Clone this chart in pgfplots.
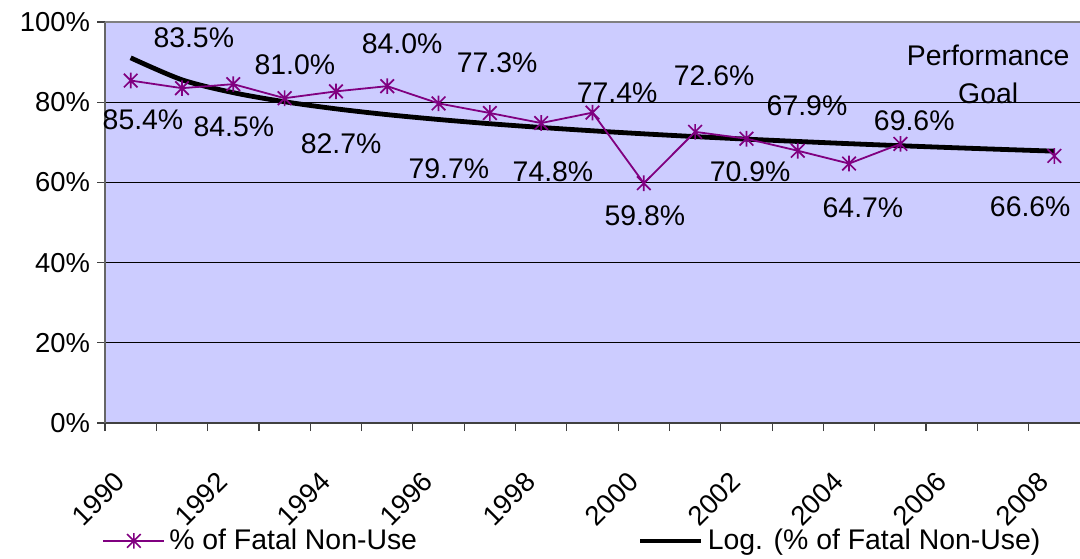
\documentclass[border=0pt]{standalone}
\usepackage{pgfplots}
\pgfplotsset{compat=1.18}
\usepackage{fontspec}
\setmainfont{Liberation Sans}
\definecolor{plotbg}{HTML}{CCCCFF}
\definecolor{seriescol}{HTML}{800080}
\pgfdeclareplotmark{xvstar}{%
  \pgfpathmoveto{\pgfqpoint{-\pgfplotmarksize}{-\pgfplotmarksize}}%
  \pgfpathlineto{\pgfqpoint{\pgfplotmarksize}{\pgfplotmarksize}}%
  \pgfpathmoveto{\pgfqpoint{-\pgfplotmarksize}{\pgfplotmarksize}}%
  \pgfpathlineto{\pgfqpoint{\pgfplotmarksize}{-\pgfplotmarksize}}%
  \pgfpathmoveto{\pgfqpoint{0pt}{-1.15\pgfplotmarksize}}%
  \pgfpathlineto{\pgfqpoint{0pt}{1.15\pgfplotmarksize}}%
  \pgfusepathqstroke}
\pgfplotstableread{
x y
1990 85.4
1991 83.5
1992 84.5
1993 81.0
1994 82.7
1995 84.0
1996 79.7
1997 77.3
1998 74.8
1999 77.4
2000 59.8
2001 72.6
2002 70.9
2003 67.9
2004 64.7
2005 69.6
2006 nan
2007 nan
2008 66.6
}\fatal
\pgfplotstableread{
x y
1990 91.07
1991 85.59
1992 82.38
1993 80.11
1994 78.35
1995 76.90
1996 75.69
1997 74.63
1998 73.70
1999 72.87
2000 72.11
2001 71.42
2002 70.79
2003 70.21
2004 69.66
2005 69.15
2006 68.67
2007 68.22
2008 67.79
}\trend
\begin{document}
\begin{tikzpicture}
\useasboundingbox (0,0) rectangle (540pt,279pt);
\begin{axis}[
  at={(52.5pt,67.5pt)}, anchor=south west,
  scale only axis, width=487.5pt, height=200.5pt,
  xmin=1989.5, xmax=2008.5, ymin=0, ymax=100,
  axis background/.style={fill=plotbg},
  axis x line*=bottom, axis y line*=left,
  x axis line style={-, draw=black!75, line width=1pt},
  y axis line style={-, draw=black!60, line width=1pt},
  tick align=outside, major tick length=4pt,
  tick style={black!75, line width=0.6pt},
  ytick={0,20,40,60,80,100},
  yticklabels={0\%,20\%,40\%,60\%,80\%,100\%},
  ymajorgrids, major grid style={black, line width=0.5pt},
  xtick={1989.5,1990.5,1991.5,1992.5,1993.5,1994.5,1995.5,1996.5,1997.5,1998.5,1999.5,2000.5,2001.5,2002.5,2003.5,2004.5,2005.5,2006.5,2007.5},
  xticklabels={},
  extra x ticks={1989.66,1991.66,1993.66,1995.66,1997.66,1999.66,2001.66,2003.66,2005.66,2007.66},
  extra x tick labels={1990,1992,1994,1996,1998,2000,2002,2004,2006,2008},
  extra x tick style={major tick length=0pt},
  xticklabel style={rotate=45, anchor=north east, inner sep=0pt},
  xticklabel shift=23.5pt,
  tick label style={font=\fontsize{13.7}{16}\selectfont},
  unbounded coords=jump,
  legend style={at={(-0.003,-0.294)}, anchor=west, draw=none, fill=none,
    legend columns=2, font=\fontsize{14.2}{17}\selectfont,
    /tikz/every even column/.append style={column sep=108.5pt},
    inner sep=0pt},
  legend cell align=left,
  legend image code/.code={\draw[mark repeat=2,mark phase=2,#1] plot coordinates {(0pt,0pt) (15.25pt,0pt) (30.5pt,0pt)};},
  clip=false,
  after end axis/.code={\draw[black!50, line width=0.8pt] (rel axis cs:0,1) -- (rel axis cs:1,1);},
]
\addplot[black, line width=2.4pt, smooth, forget plot] table[x=x,y=y] {\trend};
\addplot[seriescol, line width=0.9pt, mark=xvstar, mark size=3.4pt, mark options={line width=0.85pt, solid}] table[x=x,y=y] {\fatal};
\addlegendentry{\% of Fatal Non-Use}
\addlegendimage{black, line width=2.4pt}
\addlegendentry{Log. (\% of Fatal Non-Use)}
\begin{scope}[every node/.style={font=\fontsize{14.2}{17}\selectfont, inner sep=0pt}]
\node at (axis cs:1990.24,75.6) {85.4\%};
\node at (axis cs:1991.23,96.0) {83.5\%};
\node at (axis cs:1992.01,73.8) {84.5\%};
\node at (axis cs:1993.20,89.3) {81.0\%};
\node at (axis cs:1994.10,69.6) {82.7\%};
\node at (axis cs:1995.29,94.5) {84.0\%};
\node at (axis cs:1996.20,63.3) {79.7\%};
\node at (axis cs:1997.14,89.8) {77.3\%};
\node at (axis cs:1998.23,62.6) {74.8\%};
\node at (axis cs:1999.48,82.3) {77.4\%};
\node at (axis cs:2000.02,51.6) {59.8\%};
\node at (axis cs:2001.37,86.5) {72.6\%};
\node at (axis cs:2002.07,62.6) {70.9\%};
\node at (axis cs:2003.18,79.1) {67.9\%};
\node at (axis cs:2004.27,53.6) {64.7\%};
\node at (axis cs:2005.27,75.3) {69.6\%};
\node at (axis cs:2007.53,53.9) {66.6\%};
\node at (axis cs:2006.71,91.8) {Performance};
\node at (axis cs:2006.71,82.3) {Goal};
\end{scope}
\end{axis}
\end{tikzpicture}
\end{document}
